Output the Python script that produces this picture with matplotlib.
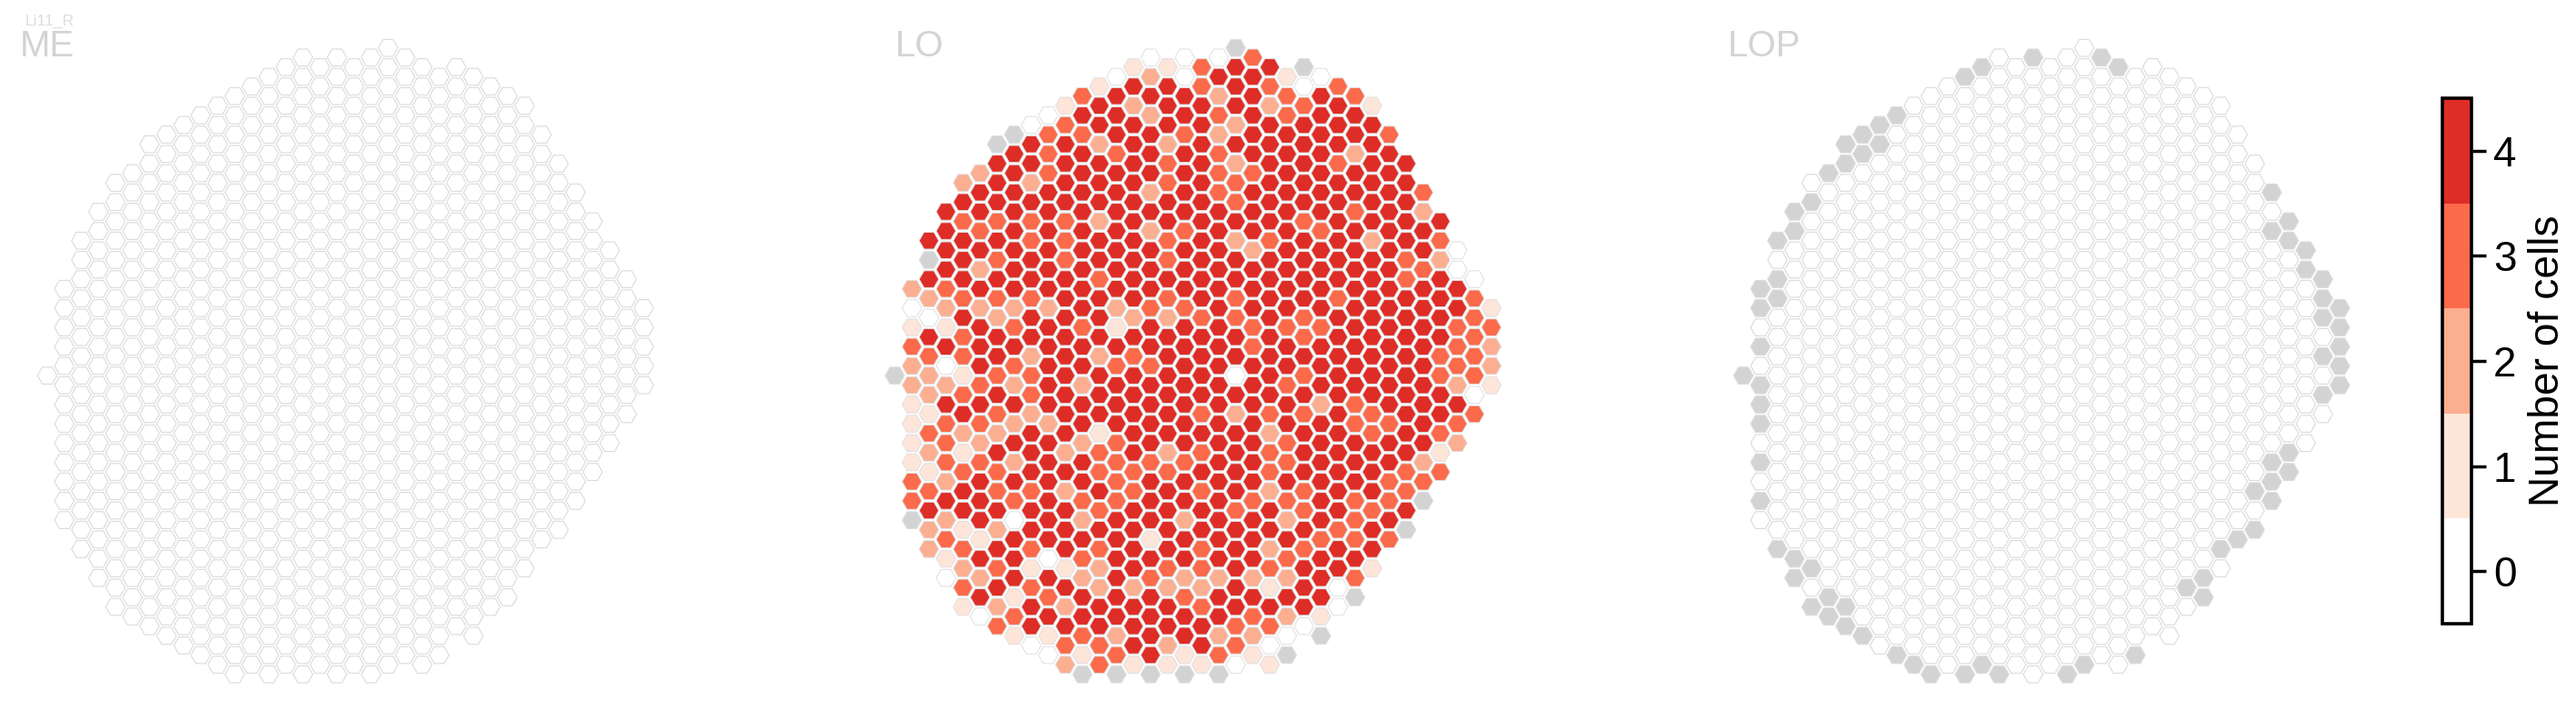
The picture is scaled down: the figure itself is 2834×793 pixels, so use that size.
import matplotlib
matplotlib.use("Agg")
import matplotlib.pyplot as plt
from matplotlib.colors import ListedColormap, BoundaryNorm
from matplotlib.cm import ScalarMappable

plt.rcParams['font.family'] = ['Liberation Sans', 'DejaVu Sans']

# hexagon lattice: half-row index, first column of that half-row, counts in LO ('x' = no data)
row_index = list(range(-34, 32))
row_start = [20, 15, 14, 13, 12, 11, 10, 9, 8, 7, 6, 7, 6, 5, 4, 5, 4, 3, 4, 3, 2, 3, 2, 3, 2,
             1, 2, 1, 2, 1, 2, 1, 2, 1, 0, 1, 2, 1, 2, 1, 2, 1, 2, 1, 2, 1, 2, 1, 2, 1, 2,
             3, 2, 3, 4, 3, 4, 5, 4, 5, 6, 7, 8, 9, 10, 11]
lo_counts = [
    "x", "0003", "11344x", "0204410", "14434303", "344424343", "1424442341",
    "0442434344", "03444424444", "x33443244443", "x44242444444", "434344344424",
    "4444434244344", "2434444334444", "24244434344444", "44444243444443",
    "44444444344444", "444444444444342", "333324444434444", "434444234443444",
    "4443344342344243", "4444444442444440", "x434344344444432", "4244444444444430",
    "44444344444444340", "23444444444444444", "23334443434434443", "022224233444444441",
    "04244422334344443", "114343144433344433", "43444444444344443", "344444444434444432",
    "33424234444444433", "204344334444444432", "x21334444404344433", "223242444443444421",
    "23434444444444440", "14444444444423444", "14324444323343443", "13322444444443343",
    "3224414444244343", "13244234444344442", "2144234234344441", "1332443334434442",
    "1334433344344433", "3244443444444433", "343324343423443", "344343344433433x",
    "444443444343434", "x24042442442434", "21244444444434x", "31444414444333",
    "23434344342344", "1440344444344", "2311243343441", "0244243222243",
    "343422224140", "41344434444x", "124244434440", "03444444321",
    "3444444330", "113244220x", "03342430", "0134131x", "2311101", "xxxxx",
]
# LOP: columns/half-rows without data; all other cells count 0
lop_nodata_col = [17, 14, 13, 9, 8, 7, 6, 8, 7, 6, 5, 4, 3, 3, 2, 2, 1, 2, 1, 1, 0, 1, 1, 1, 1, 1,
                  2, 3, 4, 3, 5, 4, 6, 5, 6, 7, 9, 10, 11, 13, 14, 15, 19,
                  21, 22, 31, 32, 31, 32, 33, 33, 34, 34, 35, 34, 35, 35, 34, 35, 35, 34,
                  32, 31, 32, 31, 30, 31, 30, 29, 28, 27, 26, 27, 23, 20]
lop_nodata_row = [-33, -32, -31, -27, -26, -25, -24, -24, -23, -22, -21, -18, -17, -15, -14, -10, -9, -8, -7, -3, 0, 1, 3, 5, 9, 13,
                  18, 19, 20, 21, 23, 24, 24, 25, 26, 27, 29, 30, 31, 31, 30, 31, 31,
                  -33, -32, -19, -16, -15, -14, -13, -11, -10, -8, -7, -6, -5, -3, -2, -1, 1, 2,
                  8, 9, 10, 11, 12, 13, 16, 17, 18, 21, 22, 23, 29, 30]

panel_names = ["ME", "LO", "LOP"]
panel_origin_px = [52.0, 984.5, 1918.0]
title_x_px = [22, 985, 1901]
subtitle = "Li11_R"
cbar_ticks = [0, 1, 2, 3, 4]
cbar_label = "Number of cells"
palette = ["#FFFFFF", "#FEE5D9", "#FCAE91", "#FB6A4A", "#DE2D26"]
NODATA = "#D3D3D3"

W, H = 2834, 793
DPI = 200
fig = plt.figure(figsize=(W / DPI, H / DPI), dpi=DPI, facecolor="white")

cells = [(c0 + 2 * i, h, v) for h, c0, vals in zip(row_index, row_start, lo_counts)
         for i, v in enumerate(vals)]
lop_gray = set(zip(lop_nodata_col, lop_nodata_row))


def values_for(name):
    if name == "LO":
        return [v for _, _, v in cells]
    if name == "LOP":
        return ["x" if (c, h) in lop_gray else "0" for c, h, _ in cells]
    return ["0" for _ in cells]


DX, DY, Y0 = 18.75, 10.6, 413.1
C_MIN, C_MAX, H_MIN, H_MAX = -1, 36, -36, 33
cols = [c for c, _, _ in cells]
rows = [h for _, h, _ in cells]
for name, ox, tx in zip(panel_names, panel_origin_px, title_x_px):
    left = ox + C_MIN * DX
    top = Y0 + H_MIN * DY
    ax = fig.add_axes([left / W, 1 - (top + (H_MAX - H_MIN) * DY) / H,
                       (C_MAX - C_MIN) * DX / W, (H_MAX - H_MIN) * DY / H])
    ax.set_xlim(C_MIN, C_MAX)
    ax.set_ylim(H_MAX, H_MIN)
    ax.axis("off")
    vals = values_for(name)
    faces = [NODATA if v == "x" else palette[int(v)] for v in vals]
    edge = "#DCDCDC" if name != "LO" else "#E0E0E0"
    lw = 0.42 if name != "LO" else 0.36
    ax.scatter(cols, rows, s=60, marker="H", c=faces, edgecolors=edge, linewidths=lw,
               clip_on=False)
    fig.text(tx / W, 1 - 62.5 / H, name, color="#D3D3D3", fontsize=14.5, ha="left", va="baseline")

fig.text(28 / W, 1 - 28 / H, subtitle, color="#DDDDDD", fontsize=6.3, ha="left", va="baseline")

cax = fig.add_axes([2687 / W, 1 - 686 / H, 32 / W, 578 / H])
cmap = ListedColormap(palette)
norm = BoundaryNorm([-0.5, 0.5, 1.5, 2.5, 3.5, 4.5], cmap.N)
cb = fig.colorbar(ScalarMappable(norm=norm, cmap=cmap), cax=cax, ticks=cbar_ticks, spacing="proportional")
cb.outline.set_linewidth(1.3)
cb.outline.set_edgecolor("black")
cb.ax.tick_params(length=5.6, width=1.25, labelsize=16.5, pad=3.0, color="black", labelcolor="black")
cb.ax.minorticks_off()
cb.set_label(cbar_label, fontsize=16.6, labelpad=4.5)

fig.savefig("out.png", dpi=DPI, facecolor="white")
